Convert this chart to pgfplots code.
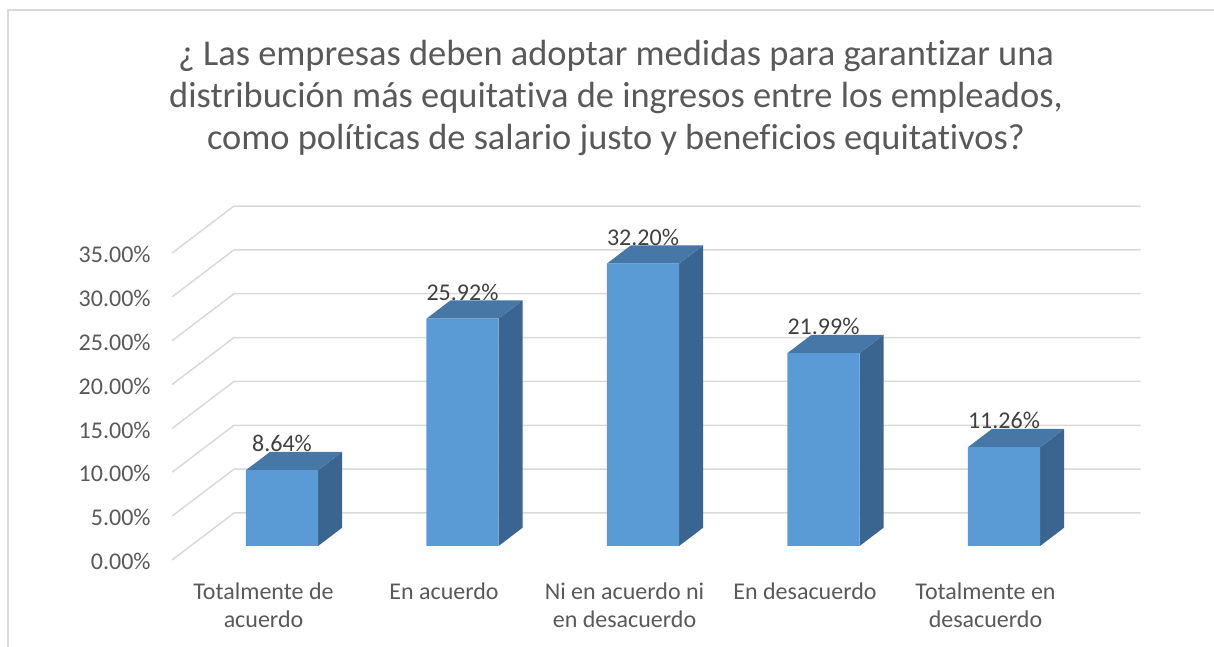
\documentclass[border=0pt]{standalone}
\usepackage{pgfplots}
\pgfplotsset{compat=1.18}
\usepackage{pgfplotstable}
\usepackage{fontspec}
\setmainfont{Carlito}[Ligatures=NoCommon]
\definecolor{frontc}{HTML}{5B9BD5}
\definecolor{topc}{HTML}{4677A6}
\definecolor{sidec}{HTML}{3A6590}
\definecolor{gridc}{HTML}{D9D9D9}
\definecolor{txt}{HTML}{595959}
\definecolor{lbl}{HTML}{404040}
\pgfplotstableread{
i v
0 8.64
1 25.92
2 32.20
3 21.99
4 11.26
}\data
\begin{document}
\begin{tikzpicture}[x=0.5pt,y=0.5pt]
\useasboundingbox (0,0) rectangle (1214,647);
\draw[gridc, line width=0.75pt] (8,0) -- (8,637) -- (1214,637);
\node[anchor=base, font=\fontsize{18.2}{21}\selectfont, text=txt, inner sep=0pt] at (616,581) {¿ Las empresas deben adoptar medidas para garantizar una};
\node[anchor=base, font=\fontsize{18.2}{21}\selectfont, text=txt, inner sep=0pt] at (616,539) {distribución más equitativa de ingresos entre los empleados,};
\node[anchor=base, font=\fontsize{18.2}{21}\selectfont, text=txt, inner sep=0pt] at (616,497) {como políticas de salario justo y beneficios equitativos?};
\begin{axis}[
  scale only axis, width=541.5pt, height=219.25pt,
  xmin=-1, xmax=5, ymin=-4, ymax=46,
  anchor=south west, at={(50.75pt,32.96pt)},
  axis line style={draw=none}, major tick length=0pt,
  clip=false,
  xtick={0,1,2,3,4},
  xticklabels={{Totalmente de\\acuerdo},{En acuerdo},{Ni en acuerdo ni\\en desacuerdo},{En desacuerdo},{Totalmente en\\desacuerdo}},
  xticklabel style={align=center, font=\fontsize{12}{14}\selectfont, text=txt, inner sep=0pt, anchor=north, xshift=-9.25pt, yshift=-0.65pt},
  ytick={0,5,10,15,20,25,30,35},
  yticklabels={0.00\%,5.00\%,10.00\%,15.00\%,20.00\%,25.00\%,30.00\%,35.00\%},
  yticklabel style={anchor=east, font=\fontsize{12}{14}\selectfont, text=txt, inner sep=0pt, xshift=24.75pt, yshift=-7.75pt},
]
\pgfplotsinvokeforeach{0,5,10,15,20,25,30,35}{
  \draw[gridc, line width=0.75pt] (axis cs:-0.609,{#1-1.596}) -- (axis cs:-0.266,{#1+3.763}) -- (axis cs:4.757,{#1+3.763});
}
\pgfplotsinvokeforeach{0,1,2,3,4}{
  \pgfplotstablegetelem{#1}{v}\of\data
  \pgfmathsetmacro{\val}{\pgfplotsretval}
  \pgfmathsetmacro{\xl}{#1-0.2}
  \pgfmathsetmacro{\xr}{#1+0.2}
  \pgfmathsetmacro{\xlb}{#1-0.2+0.133}
  \pgfmathsetmacro{\xrb}{#1+0.2+0.133}
  \pgfmathsetmacro{\yb}{\val+2.087}
  \addplot[fill=sidec, draw=none] coordinates {(\xr,0) (\xrb,2.087) (\xrb,\yb) (\xr,\val)} -- cycle;
  \addplot[fill=topc, draw=none] coordinates {(\xl,\val) (\xr,\val) (\xrb,\yb) (\xlb,\yb)} -- cycle;
}
\addplot[ybar, bar width=0.4, fill=frontc, draw=none,
  nodes near coords={\pgfmathprintnumber[fixed,fixed zerofill,precision=2,assume math mode=true]{\pgfplotspointmeta}\%},
  every node near coord/.append style={anchor=base, yshift=9.15pt, inner sep=0pt, font=\fontsize{12}{14}\selectfont, text=lbl}]
  table[x=i, y=v] {\data};
\end{axis}
\end{tikzpicture}
\end{document}
